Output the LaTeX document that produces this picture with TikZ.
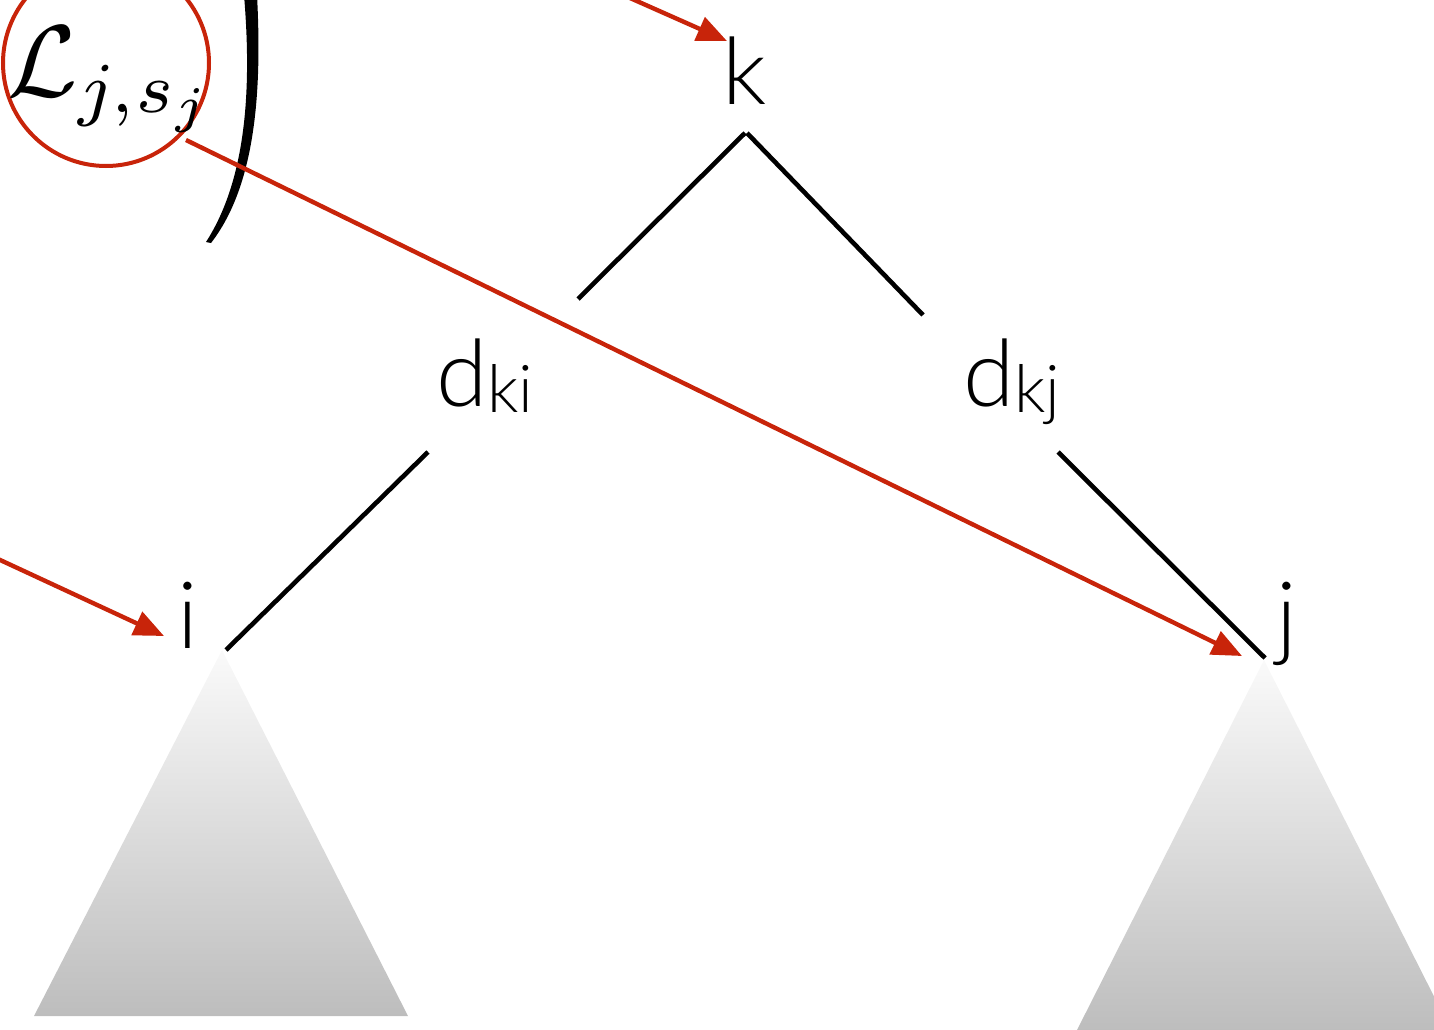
\documentclass[tikz,border=0pt]{standalone}
\usepackage{fontspec}
\setmainfont{Lato Light}
\usetikzlibrary{arrows.meta}
\definecolor{redc}{RGB}{200,36,10}
\definecolor{tritop}{RGB}{250,250,250}
\definecolor{tribot}{RGB}{189,189,189}
\begin{document}
\begin{tikzpicture}[x=1pt,y=-1pt,
  blk/.style={line width=4.6pt,black},
  redarrow/.style={line width=4.4pt, draw=redc, -{Triangle[length=30pt,width=25pt]}},
  lbl/.style={inner sep=0pt, font=\fontsize{93}{100}\selectfont},
  subtree/.style={top color=tritop, bottom color=tribot}
]
\useasboundingbox (0,0) rectangle (1434,1030);
\clip (0,0) rectangle (1434,1030);

% subtrees
\shade[subtree] (222,650) -- (408,1016) -- (34,1016) -- cycle;
\shade[subtree] (1264,660) -- (1452,1032) -- (1076,1032) -- cycle;

% labels
\node[lbl, anchor=base] (k) at (745,105) {k};
\node[lbl, anchor=base west] (dki) at (436,406) {d\raisebox{-6pt}{\fontsize{66}{70}\selectfont ki}};
\node[lbl, anchor=base west] (dkj) at (963,406) {d\raisebox{-6pt}{\fontsize{66}{70}\selectfont kj}};
\node[lbl, anchor=base] (i) at (188,648) {i};
\node[lbl, anchor=base west] (j) at (1276,648) {j};

% red circle with L
\node[draw=redc, line width=4pt, circle, minimum size=206pt, inner sep=0pt] (circ) at (106,63) {};
\node[scale=10.2, inner sep=0pt, anchor=base west] (Lsym) at (5,97) {$\mathcal{L}_{j,s_j}$};

% big parenthesis
\fill[black] (244,-5) .. controls (252,90) and (246,180) .. (206,242)
  -- (211,243) .. controls (256,185) and (262,90) .. (257,-5) -- cycle;

% tree edges
\coordinate (kL) at (745,133);
\coordinate (kR) at (747,133);
\coordinate (dkiT) at (578,299);
\coordinate (dkjT) at (923,315);
\coordinate (dkiB) at (428,452);
\coordinate (iT) at (226,650);
\coordinate (dkjB) at (1058,452);
\coordinate (jT) at (1265,658);
\draw[blk] (kL) -- (dkiT);
\draw[blk] (kR) -- (dkjT);
\draw[blk] (dkiB) -- (iT);
\draw[blk] (dkjB) -- (jT);

% red arrows
\coordinate (topstart) at (630,-2);
\coordinate (ktip) at (727,41);
\coordinate (leftstart) at (-2,559);
\coordinate (itip) at (164,636);
\coordinate (cstart) at (186,140);
\coordinate (jtip) at (1242,656);
\draw[redarrow] (topstart) -- (ktip);
\draw[redarrow] (leftstart) -- (itip);
\draw[redarrow] (cstart) -- (jtip);
\end{tikzpicture}
\end{document}
